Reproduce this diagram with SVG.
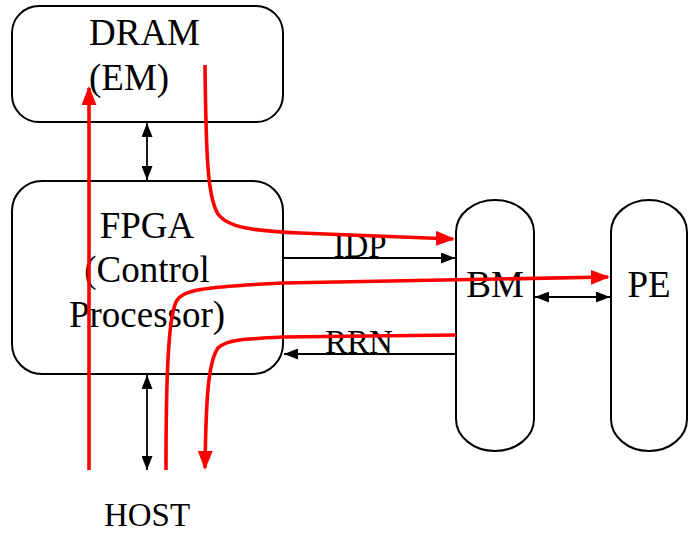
<svg xmlns="http://www.w3.org/2000/svg" width="688" height="533" viewBox="0 0 688 533">
<defs>
<style>
.box{fill:#fff;stroke:#000;stroke-width:2}
.t{font-family:"Liberation Serif","Times New Roman",serif;font-size:37px;fill:#000}
.lbl{font-family:"Liberation Serif","Times New Roman",serif;font-size:33px;fill:#000}
.blk{fill:none;stroke:#000;stroke-width:1.8}
.red{fill:none;stroke:#f00;stroke-width:3.6}
</style>
<marker id="ab" viewBox="0 0 10 10" preserveAspectRatio="none" refX="10" refY="5" markerWidth="14" markerHeight="11" markerUnits="userSpaceOnUse" orient="auto-start-reverse">
<path d="M0,0 L10,5 L0,10 z" fill="#000"/>
</marker>
<marker id="ar" viewBox="0 0 10 10" preserveAspectRatio="none" refX="9" refY="5" markerWidth="19" markerHeight="15" markerUnits="userSpaceOnUse" orient="auto">
<path d="M0,0 L10,5 L0,10 z" fill="#f00"/>
</marker>
</defs>
<g id="dram"><rect class="box" x="12" y="6" width="271" height="116" rx="27" ry="27"/>
<text class="t" x="89" y="45">DRAM</text><text class="t" x="89" y="90">(EM)</text></g>
<g id="fpga"><rect class="box" x="12" y="181" width="271" height="193" rx="30" ry="30"/>
<text class="t" x="147" y="238" text-anchor="middle">FPGA</text>
<text class="t" x="147" y="282" text-anchor="middle">(Control</text>
<text class="t" x="147" y="327" text-anchor="middle">Processor)</text></g>
<g id="bm"><rect class="box" x="456" y="200" width="78" height="251" rx="39" ry="32"/>
<text class="t" x="495" y="297" text-anchor="middle">BM</text></g>
<g id="pe"><rect class="box" x="611" y="200" width="76" height="251" rx="38" ry="32"/>
<text class="t" x="649" y="297" text-anchor="middle">PE</text></g>
<g id="host"><text class="lbl" x="147" y="526" text-anchor="middle">HOST</text></g>
<g id="connectors">
<line class="blk" x1="147" y1="123" x2="147" y2="180" marker-start="url(#ab)" marker-end="url(#ab)"/>
<line class="blk" x1="147" y1="375" x2="147" y2="470" marker-start="url(#ab)" marker-end="url(#ab)"/>
<line class="blk" x1="535" y1="297" x2="610" y2="297" marker-start="url(#ab)" marker-end="url(#ab)"/>
<line class="blk" x1="283" y1="258" x2="455" y2="258" marker-end="url(#ab)"/>
<line class="blk" x1="456" y1="354" x2="284" y2="354" marker-end="url(#ab)"/>
<text class="lbl" x="360" y="257" text-anchor="middle">IDP</text>
<text class="lbl" x="359" y="353" text-anchor="middle">RRN</text>
<path class="red" d="M89,470 L89,88" marker-end="url(#ar)"/>
<path class="red" d="M205,65 C206,160 208,198 218,214 C228,228 255,231 300,233 L453,239" marker-end="url(#ar)"/>
<path class="red" d="M166,470 C166,380 168,320 176,302 C182,290 200,287 283,283 L608,277" marker-end="url(#ar)"/>
<path class="red" d="M456,335 L283,337 C242,339 226,340 218,348 C208,362 206,400 205,468" marker-end="url(#ar)"/>
</g>
</svg>
